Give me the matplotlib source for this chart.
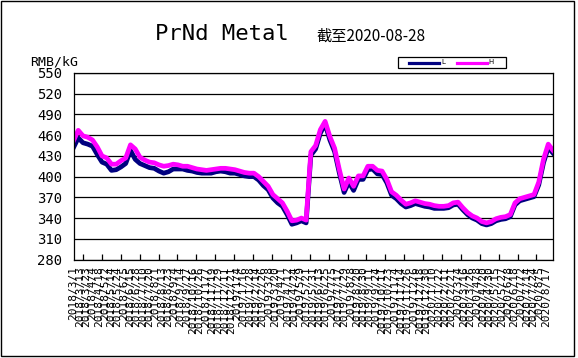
import numpy as np
import matplotlib
matplotlib.use('Agg')
import matplotlib.pyplot as plt
from matplotlib.patches import Rectangle
from matplotlib.lines import Line2D
from matplotlib.ticker import MultipleLocator

# Etiquetas do eixo x (uma a cada 8 dias úteis)
datas = [
    '2018/3/1', '2018/3/13', '2018/3/23', '2018/4/4', '2018/4/18', '2018/5/2',
    '2018/5/14', '2018/5/24', '2018/6/5', '2018/6/15', '2018/6/28', '2018/7/10',
    '2018/7/20', '2018/8/1', '2018/8/13', '2018/8/23', '2018/9/4', '2018/9/14',
    '2018/9/27', '2018/10/16', '2018/10/26', '2018/11/7', '2018/11/19', '2018/11/29',
    '2018/12/11', '2018/12/21', '2019/1/4', '2019/1/16', '2019/1/28', '2019/2/14',
    '2019/2/26', '2019/3/8', '2019/3/20', '2019/4/1', '2019/4/12', '2019/4/24',
    '2019/5/9', '2019/5/21', '2019/5/31', '2019/6/13', '2019/6/25', '2019/7/5',
    '2019/7/17', '2019/7/29', '2019/8/8', '2019/8/20', '2019/8/30', '2019/9/11',
    '2019/9/24', '2019/10/11', '2019/10/23', '2019/11/4', '2019/11/14', '2019/11/26',
    '2019/12/6', '2019/12/18', '2019/12/30', '2020/1/10', '2020/1/22', '2020/2/11',
    '2020/2/21', '2020/3/4', '2020/3/16', '2020/3/26', '2020/4/8', '2020/4/20',
    '2020/4/30', '2020/5/15', '2020/5/27', '2020/6/8', '2020/6/18', '2020/7/2',
    '2020/7/14', '2020/7/24', '2020/8/5', '2020/8/17',
]

# Preço alto (H) e baixo (L), RMB/kG
preco_h = [
    452, 467, 459, 457, 453, 443, 430, 427, 418, 418,
    423, 427, 446, 440, 428, 424, 421, 420, 417, 415,
    416, 418, 417, 415, 415, 413, 411, 410, 409, 410,
    411, 412, 412, 411, 410, 408, 406, 405, 405, 400,
    393, 386, 374, 368, 362, 350, 336, 337, 340, 337,
    436, 445, 468, 480, 458, 441, 410, 382, 398, 386,
    401, 401, 415, 415, 409, 408, 396, 378, 373, 366,
    360, 362, 365, 363, 361, 360, 358, 357, 357, 358,
    362, 363, 355, 348, 343, 340, 335, 333, 335, 339,
    341, 342, 345, 362, 368, 370, 372, 374, 392, 425,
    447, 438,
]
preco_l = [
    442, 456, 449, 447, 444, 432, 421, 418, 409, 410,
    414, 419, 438, 425, 419, 416, 413, 412, 408, 405,
    407, 411, 411, 411, 409, 408, 406, 405, 405, 405,
    407, 408, 407, 405, 405, 403, 401, 400, 400, 395,
    387, 381, 369, 362, 357, 345, 331, 333, 336, 333,
    431, 440, 463, 476, 453, 436, 405, 377, 392, 380,
    396, 396, 410, 411, 404, 403, 391, 373, 368, 361,
    356, 358, 361, 359, 357, 356, 354, 354, 354, 355,
    359, 360, 352, 345, 340, 337, 332, 330, 332, 336,
    338, 339, 342, 359, 365, 367, 369, 371, 388, 420,
    442, 434,
]

y_ticks = [280, 310, 340, 370, 400, 430, 460, 490, 520, 550]

LARG, ALT = 578, 358


def fx(px):
    return px / LARG


def fy(py):
    return 1 - py / ALT


fig = plt.figure(figsize=(LARG / 100, ALT / 100), dpi=100)
fig.patch.set_facecolor('white')

# moldura exterior
fig.add_artist(Rectangle((fx(1), fy(356)), fx(573), (355) / ALT, transform=fig.transFigure,
                         fill=False, ec='black', lw=1.0))

ax = fig.add_axes([fx(73.5), fy(259.5), fx(553) - fx(73.5), fy(73) - fy(259.5)])

# dias úteis: 609 no total
total_dias = 609
x = np.linspace(0, total_dias, len(preco_h))
ax.plot(x, preco_l, color='#000080', lw=3.4, solid_joinstyle='round', label='L')
ax.plot(x, preco_h, color='#FF00FF', lw=3.4, solid_joinstyle='round', label='H')

ax.set_xlim(0, total_dias)
ax.set_ylim(280, 550)
ax.set_yticks(y_ticks)
ax.set_yticklabels([str(v) for v in y_ticks], family='DejaVu Sans Mono', fontsize=10)
ax.yaxis.grid(True, color='black', lw=0.9)
ax.tick_params(axis='y', length=0, pad=8)

pos = np.arange(len(datas)) * 8
ax.set_xticks(pos)
ax.set_xticklabels(datas, rotation=90, family='DejaVu Sans Mono', fontsize=8, va='top', ha='center')
ax.xaxis.set_minor_locator(MultipleLocator(12))
ax.tick_params(axis='x', which='major', length=0, pad=5)
ax.tick_params(axis='x', which='minor', direction='in', length=4, width=0.9, color='black')

for s in ax.spines.values():
    s.set_color('black')
    s.set_linewidth(0.9)

# títulos
fig.text(fx(222), fy(39.5), 'PrNd Metal', family='DejaVu Sans Mono', fontsize=16,
         ha='center', va='baseline')
fig.text(fx(316), fy(40.5), '截至2020-08-28', family=['Noto Sans CJK SC', 'DejaVu Sans'],
         fontsize=11, ha='left', va='baseline')
fig.text(fx(30), fy(62), 'RMB/kG', family='DejaVu Sans Mono', fontsize=9.5,
         ha='left', va='center')

# legenda
fig.add_artist(Rectangle((fx(398), fy(68.3)), fx(506) - fx(398), (68.3 - 56.5) / ALT,
                         transform=fig.transFigure, fill=False, ec='black', lw=0.9))
fig.add_artist(Line2D([fx(409), fx(439)], [fy(62.5), fy(62.5)], color='#000080', lw=2.3,
                      transform=fig.transFigure))
fig.add_artist(Line2D([fx(457), fx(487)], [fy(62.5), fy(62.5)], color='#FF00FF', lw=2.3,
                      transform=fig.transFigure))
fig.text(fx(441), fy(62.5), 'L', fontsize=5, ha='left', va='center')
fig.text(fx(488.5), fy(62.5), 'H', fontsize=5, ha='left', va='center')

fig.savefig('out.png', dpi=100)
